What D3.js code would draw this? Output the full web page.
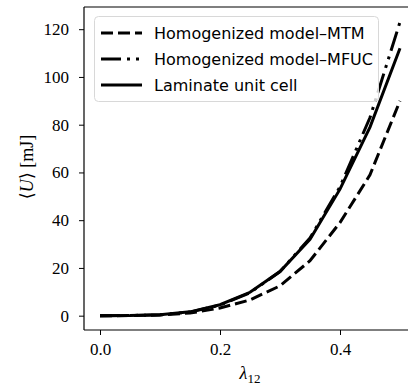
<!DOCTYPE html>
<html>
<head>
<meta charset="utf-8">
<script src="https://cdn.jsdelivr.net/npm/d3@7"></script>
<style>
  body { margin: 0; background: #fff; }
  svg { display: block; }
</style>
</head>
<body>
<div id="chart"></div>
<script>
// stretch values
var lambda = [0, 0.05, 0.1, 0.15, 0.2, 0.25, 0.3, 0.35, 0.4, 0.45, 0.5];
var energyMTM = [0, 0.03, 0.3, 1.1, 3.2, 6.6, 12.5, 23, 39, 59, 90];
var energyMFUC = [0, 0.05, 0.4, 1.5, 4.4, 9.6, 18.5, 32.5, 54, 83, 123];
var energyLaminate = [0, 0.05, 0.4, 1.6, 4.6, 9.8, 18.5, 32, 53, 79, 112];
var seriesNames = ["Homogenized model\u2013MTM", "Homogenized model\u2013MFUC", "Laminate unit cell"];
var xTicks = [0.0, 0.2, 0.4];
var yTicks = [0, 20, 40, 60, 80, 100, 120];

var W = 408, H = 387;
var plot = {left: 84, top: 7, right: 415, bottom: 330};

var svg = d3.select("#chart").append("svg")
    .attr("width", W)
    .attr("height", H);

var x = d3.scaleLinear().domain([-0.025, 0.525]).range([plot.left + 1, plot.right]);
var y = d3.scaleLinear().domain([-6, 129.3]).range([plot.bottom, plot.top]);

var serif = "'Liberation Serif', 'DejaVu Serif', serif";
var sans = "'DejaVu Sans', 'Open Sans', sans-serif";

// axes
var xAxis = svg.append("g")
    .attr("transform", "translate(0," + plot.bottom + ")")
    .call(d3.axisBottom(x).tickValues(xTicks).tickFormat(d3.format(".1f")).tickSize(5).tickPadding(8));
var yAxis = svg.append("g")
    .attr("transform", "translate(" + plot.left + ",0)")
    .call(d3.axisLeft(y).tickValues(yTicks).tickFormat(d3.format("d")).tickSize(5).tickPadding(10));

[xAxis, yAxis].forEach(function(g) {
    g.select(".domain").remove();
    g.selectAll(".tick line").attr("stroke", "#000").attr("stroke-width", 1);
    g.selectAll(".tick text")
        .attr("fill", "#000")
        .style("font-family", serif)
        .style("font-size", "17px");
});

// frame
svg.append("line").attr("x1", plot.left).attr("x2", plot.left).attr("y1", plot.top).attr("y2", plot.bottom)
    .attr("stroke", "#000").attr("stroke-width", 1.2);
svg.append("line").attr("x1", plot.left).attr("x2", W).attr("y1", plot.bottom).attr("y2", plot.bottom)
    .attr("stroke", "#000").attr("stroke-width", 1.2);
svg.append("line").attr("x1", plot.left).attr("x2", W).attr("y1", plot.top).attr("y2", plot.top)
    .attr("stroke", "#000").attr("stroke-width", 1.2);

// curves
var styles = [
    {data: energyMTM, dash: "12,5"},
    {data: energyMFUC, dash: "20,6,3,6,3,6"},
    {data: energyLaminate, dash: null}
];

var line = d3.line()
    .x(function(d) { return x(d[0]); })
    .y(function(d) { return y(d[1]); });

var clip = svg.append("clipPath").attr("id", "plotclip")
    .append("rect").attr("x", plot.left).attr("y", plot.top)
    .attr("width", plot.right - plot.left).attr("height", plot.bottom - plot.top);

styles.forEach(function(s) {
    svg.append("path")
        .datum(d3.zip(lambda, s.data))
        .attr("clip-path", "url(#plotclip)")
        .attr("d", line)
        .attr("fill", "none")
        .attr("stroke", "#000")
        .attr("stroke-width", 3)
        .attr("stroke-dasharray", s.dash);
});

// legend
var legend = svg.append("g");
legend.append("rect")
    .attr("x", 94.5).attr("y", 16.5)
    .attr("width", 284).attr("height", 85)
    .attr("rx", 4)
    .attr("fill", "#fff").attr("fill-opacity", 0.8)
    .attr("stroke", "#d8d8d8").attr("stroke-width", 1);

styles.forEach(function(s, i) {
    var yy = 33 + i * 26;
    legend.append("line")
        .attr("x1", 101).attr("x2", 142)
        .attr("y1", yy).attr("y2", yy)
        .attr("stroke", "#000").attr("stroke-width", 3)
        .attr("stroke-dasharray", s.dash);
    legend.append("text")
        .attr("x", 154).attr("y", yy + 6)
        .style("font-family", sans)
        .style("font-size", "16px")
        .text(seriesNames[i]);
});

// axis labels
var xl = svg.append("text")
    .attr("x", 250).attr("y", 379)
    .attr("text-anchor", "middle")
    .style("font-family", serif)
    .style("font-size", "18px");
xl.append("tspan").style("font-style", "italic").text("\u03bb");
xl.append("tspan").attr("dy", 4).style("font-size", "13px").text("12");

var yl = svg.append("text")
    .attr("transform", "translate(33,167) rotate(-90)")
    .attr("text-anchor", "middle")
    .style("font-family", serif)
    .style("font-size", "18px");
yl.append("tspan").text("\u27e8");
yl.append("tspan").style("font-style", "italic").text("U");
yl.append("tspan").text("\u27e9 [mJ]");
</script>
</body>
</html>
